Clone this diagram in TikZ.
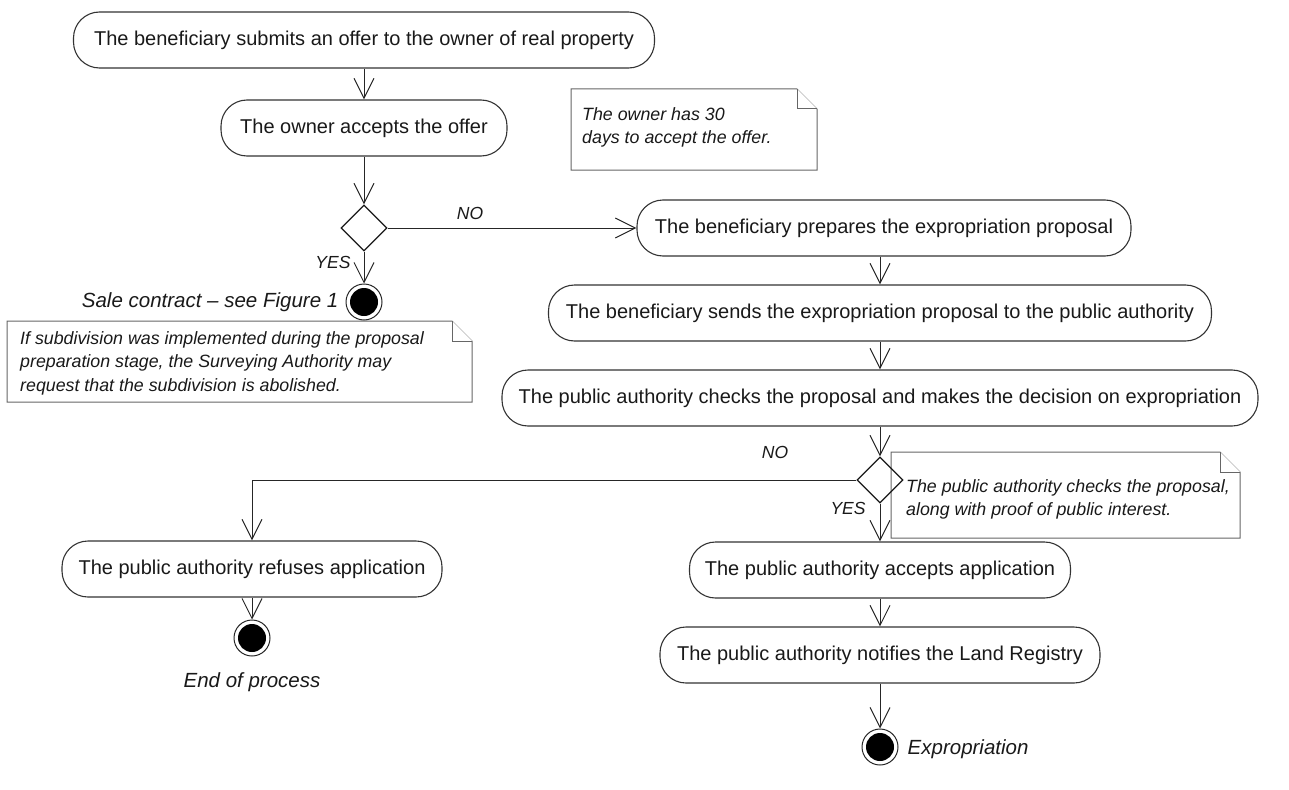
\documentclass[tikz,border=0pt]{standalone}
\usepackage{fontspec}
\setmainfont{Liberation Sans}
\usetikzlibrary{arrows.meta,shapes.geometric,calc}
\begin{document}
\begin{tikzpicture}[x=1pt,y=-1pt,
  act/.style={draw=black!80, line width=1.1pt, rounded corners=26pt, minimum height=56pt, inner sep=0pt, font=\fontsize{20}{24}\selectfont, text=black!90},
  dec/.style={draw=black!90, line width=1.3pt, diamond, minimum width=46pt, minimum height=46pt, inner sep=0pt},
  fin/.style={circle, draw=black!85, line width=1pt, minimum size=36pt, inner sep=0pt, path picture={\fill[black] (path picture bounding box.center) circle (14pt);}},
  flow/.style={draw=black!85, line width=1pt, -{Straight Barb[length=20pt,width=20pt,line width=1pt]}},
  lbl/.style={font=\itshape\fontsize{17.5}{20}\selectfont, text=black!90, inner sep=0pt},
  endlbl/.style={font=\itshape\fontsize{20.5}{24}\selectfont, text=black!90, inner sep=0pt},
  notetxt/.style={font=\itshape\fontsize{17.8}{23.5}\selectfont, text=black!90, inner sep=0pt, anchor=west, align=left},
  notebox/.style={draw=black!60, line width=1pt, fill=white}
]
\useasboundingbox (0,0) rectangle (1289,789);

% notes
\draw[notebox] (571,89) -- (797,89) -- (817,109) -- (817,170) -- (571,170) -- cycle;
\draw[notebox] (797,89) -- (797,109) -- (817,109);
\node[notetxt] (t1) at (582,127.5) {The owner has 30\\days to accept the offer.};

\draw[notebox] (7,321) -- (452,321) -- (472,341) -- (472,402) -- (7,402) -- cycle;
\draw[notebox] (452,321) -- (452,341) -- (472,341);
\node[notetxt] (t2) at (20,363) {If subdivision was implemented during the proposal\\preparation stage, the Surveying Authority may\\request that the subdivision is abolished.};

\draw[notebox] (891,452) -- (1220,452) -- (1240,472) -- (1240,538) -- (891,538) -- cycle;
\draw[notebox] (1220,452) -- (1220,472) -- (1240,472);
\node[notetxt] (t3) at (906,499.5) {The public authority checks the proposal,\\along with proof of public interest.};

% activities
\node[act, minimum width=581pt] (n1) at (364,40) {The beneficiary submits an offer to the owner of real property};
\node[act, minimum width=286pt] (n2) at (364,128) {The owner accepts the offer};
\node[dec] (d1) at (364,228) {};
\node[fin] (f1) at (364,302) {};
\node[act, minimum width=494pt] (n3) at (884,228) {The beneficiary prepares the expropriation proposal};
\node[act, minimum width=663pt] (n4) at (880,313) {The beneficiary sends the expropriation proposal to the public authority};
\node[act, minimum width=756pt] (n5) at (880,398) {The public authority checks the proposal and makes the decision on expropriation};
\node[dec] (d2) at (880,480) {};
\node[act, minimum width=380pt] (n6) at (252,569) {The public authority refuses application};
\node[act, minimum width=381pt] (n7) at (880,570) {The public authority accepts application};
\node[act, minimum width=440pt] (n8) at (880,655) {The public authority notifies the Land Registry};
\node[fin] (f2) at (252,638) {};
\node[fin] (f3) at (880,747) {};

% end labels
\node[endlbl, anchor=east] (l1) at ($(f1.west)+(-7,0)$) {Sale contract -- see Figure 1};
\node[endlbl] (l2) at (252,682) {End of process};
\node[endlbl, anchor=west] (l3) at ($(f3.east)+(9,2)$) {Expropriation};

% flows
\draw[flow] (n1.south) -- (n2.north);
\draw[flow] (n2.south) -- (d1.north);
\draw[flow] (d1.east) -- (n3.west);
\draw[flow] (d1.south) -- (f1.north);
\draw[flow] (n4.north |- n3.south) -- (n4.north);
\draw[flow] (n4.south) -- (n5.north);
\draw[flow] (n5.south) -- (d2.north);
\draw[flow] (d2.west) -| (n6.north);
\draw[flow] (d2.south) -- (n7.north);
\draw[flow] (n6.south) -- (f2.north);
\draw[flow] (n7.south) -- (n8.north);
\draw[flow] (n8.south) -- (f3.north);

% guard labels
\node[lbl] (g1) at (470,213) {NO};
\node[lbl] (g2) at (333,262) {YES};
\node[lbl] (g3) at (775,452) {NO};
\node[lbl] (g4) at (848,508) {YES};
\end{tikzpicture}
\end{document}
